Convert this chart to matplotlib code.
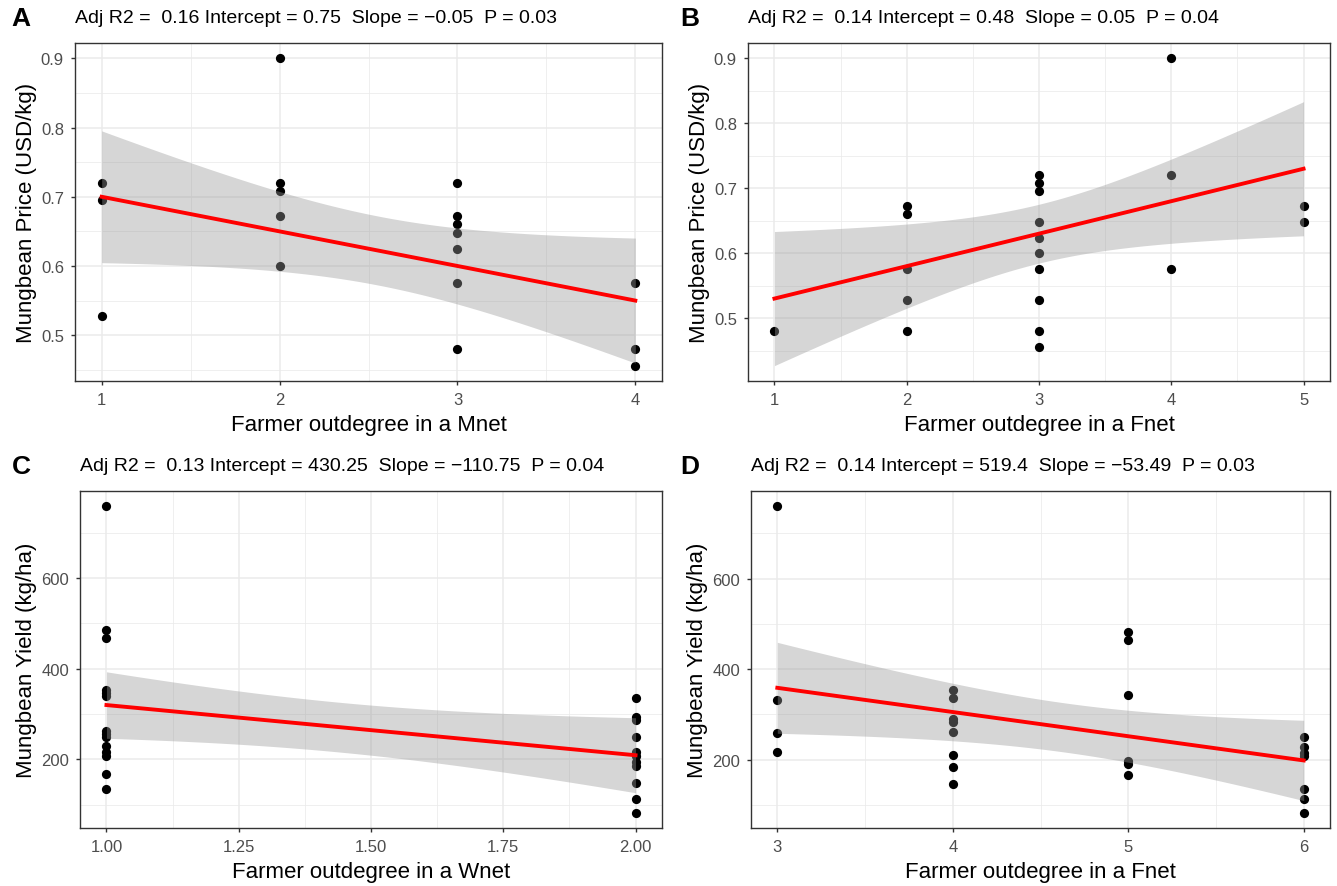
import matplotlib
matplotlib.use('Agg')
import matplotlib.pyplot as plt
from matplotlib.ticker import MultipleLocator, AutoMinorLocator, FormatStrFormatter
import numpy as np

plt.rcParams['font.family'] = ['Liberation Sans', 'DejaVu Sans']

W, H = 1337, 887

# A: farmer outdegree in the market network vs price
mnet_deg = [1, 1, 1, 2, 2, 2, 2, 2, 3, 3, 3, 3, 3, 3, 3, 4, 4, 4]
mnet_price = [0.72, 0.696, 0.528,
              0.9, 0.72, 0.708, 0.672, 0.6,
              0.72, 0.672, 0.66, 0.648, 0.624, 0.576, 0.48,
              0.576, 0.48, 0.456]
stats_a = (0.16, 0.75, -0.05, 0.03)  # adj R2, intercept, slope, P

# B: farmer outdegree in the farmer network vs price
fnet_deg_b = [1, 2, 2, 2, 2, 2, 3, 3, 3, 3, 3, 3, 3, 3, 3, 3, 4, 4, 4, 5, 5]
fnet_price = [0.48,
              0.672, 0.66, 0.576, 0.528, 0.48,
              0.72, 0.708, 0.696, 0.648, 0.624, 0.6, 0.576, 0.528, 0.48, 0.456,
              0.9, 0.72, 0.576,
              0.672, 0.648]
stats_b = (0.14, 0.48, 0.05, 0.04)

# C: farmer outdegree in the information network vs yield
wnet_deg = [1] * 14 + [2] * 11
wnet_yield = [758, 485, 467, 352, 345, 340, 262, 255, 248, 230, 215, 208, 168, 135,
              334, 293, 286, 248, 215, 206, 193, 184, 147, 113, 82]
stats_c = (0.13, 430.25, -110.75, 0.04)

# D: farmer outdegree in the farmer network vs yield
fnet_deg_d = [3] * 4 + [4] * 8 + [5] * 6 + [6] * 7
fnet_yield = [760, 332, 258, 216,
              354, 337, 291, 284, 261, 211, 184, 147,
              483, 465, 343, 197, 191, 167,
              250, 229, 215, 209, 135, 113, 83]
stats_d = (0.14, 519.4, -53.49, 0.03)


def t_crit(df):
    try:
        from scipy.stats import t
        return t.ppf(0.975, df)
    except ImportError:
        return 2.08


def fmt_num(v):
    return ('%g' % v).replace('-', '\u2212')


def panel(rect, letter, letter_xy, x, y, stats, xlabel, ylabel,
          xstep, xfmt, ystep, yfmt):
    l, t, r, b = rect
    ax = fig.add_axes([l / W, 1 - b / H, (r - l) / W, (b - t) / H])
    x = np.asarray(x, float)
    y = np.asarray(y, float)
    r2, icpt, slope, p = stats

    ax.scatter(x, y, s=44, color='black', linewidths=0, zorder=2)

    # fitted line with 95% confidence band
    n = len(x)
    xs = np.linspace(x.min(), x.max(), 80)
    fit = icpt + slope * xs
    resid = y - (icpt + slope * x)
    s = np.sqrt(np.sum(resid ** 2) / (n - 2))
    se = s * np.sqrt(1 / n + (xs - x.mean()) ** 2 / np.sum((x - x.mean()) ** 2))
    tq = t_crit(n - 2)
    ax.fill_between(xs, fit - tq * se, fit + tq * se, color='#999999',
                    alpha=0.4, linewidth=0, zorder=3)
    ax.plot(xs, fit, color='red', linewidth=2.8, zorder=4)

    ax.xaxis.set_major_locator(MultipleLocator(xstep))
    ax.xaxis.set_minor_locator(AutoMinorLocator(2))
    ax.xaxis.set_major_formatter(FormatStrFormatter(xfmt))
    ax.yaxis.set_major_locator(MultipleLocator(ystep))
    ax.yaxis.set_minor_locator(AutoMinorLocator(2))
    ax.yaxis.set_major_formatter(FormatStrFormatter(yfmt))

    ax.grid(which='major', color='#EBEBEB', linewidth=1.1, zorder=0)
    ax.grid(which='minor', color='#EBEBEB', linewidth=0.55, zorder=0)
    ax.set_axisbelow(True)
    for sp in ax.spines.values():
        sp.set_color('#333333')
        sp.set_linewidth(1.0)
    ax.tick_params(which='major', direction='out', length=3, width=1,
                   color='#333333', labelcolor='#4D4D4D', labelsize=12)
    ax.tick_params(axis='x', which='major', pad=5)
    ax.tick_params(axis='y', which='major', pad=5)
    ax.tick_params(which='minor', length=0)

    ax.set_xlabel(xlabel, fontsize=16, labelpad=5, color='black')
    ax.set_ylabel(ylabel, fontsize=16, labelpad=3, color='black')

    title = 'Adj R2 =  %s Intercept = %s  Slope = %s  P = %s' % (
        fmt_num(r2), fmt_num(icpt), fmt_num(slope), fmt_num(p))
    ax.annotate(title, xy=(0, 1), xycoords='axes fraction',
                xytext=(0, 18.5), textcoords='offset points',
                ha='left', va='center', fontsize=14)
    fig.text(letter_xy[0] / W, 1 - letter_xy[1] / H, letter, fontsize=19,
             fontweight='bold', ha='center', va='center')
    return ax


fig = plt.figure(figsize=(W / 100, H / 100), dpi=100)

panel((75, 44, 662, 382), 'A', (21, 19), mnet_deg, mnet_price, stats_a,
      'Farmer outdegree in a Mnet', 'Mungbean Price (USD/kg)', 1, '%d', 0.1, '%.1f')
panel((748, 44, 1330, 382), 'B', (690, 19), fnet_deg_b, fnet_price, stats_b,
      'Farmer outdegree in a Fnet', 'Mungbean Price (USD/kg)', 1, '%d', 0.1, '%.1f')
panel((80, 492, 662, 829), 'C', (21, 467), wnet_deg, wnet_yield, stats_c,
      'Farmer outdegree in a Wnet', 'Mungbean Yield (kg/ha)', 0.25, '%.2f', 200, '%d')
panel((751, 492, 1330, 829), 'D', (690, 467), fnet_deg_d, fnet_yield, stats_d,
      'Farmer outdegree in a Fnet', 'Mungbean Yield (kg/ha)', 1, '%d', 200, '%d')

fig.savefig('out.png', dpi=100)
